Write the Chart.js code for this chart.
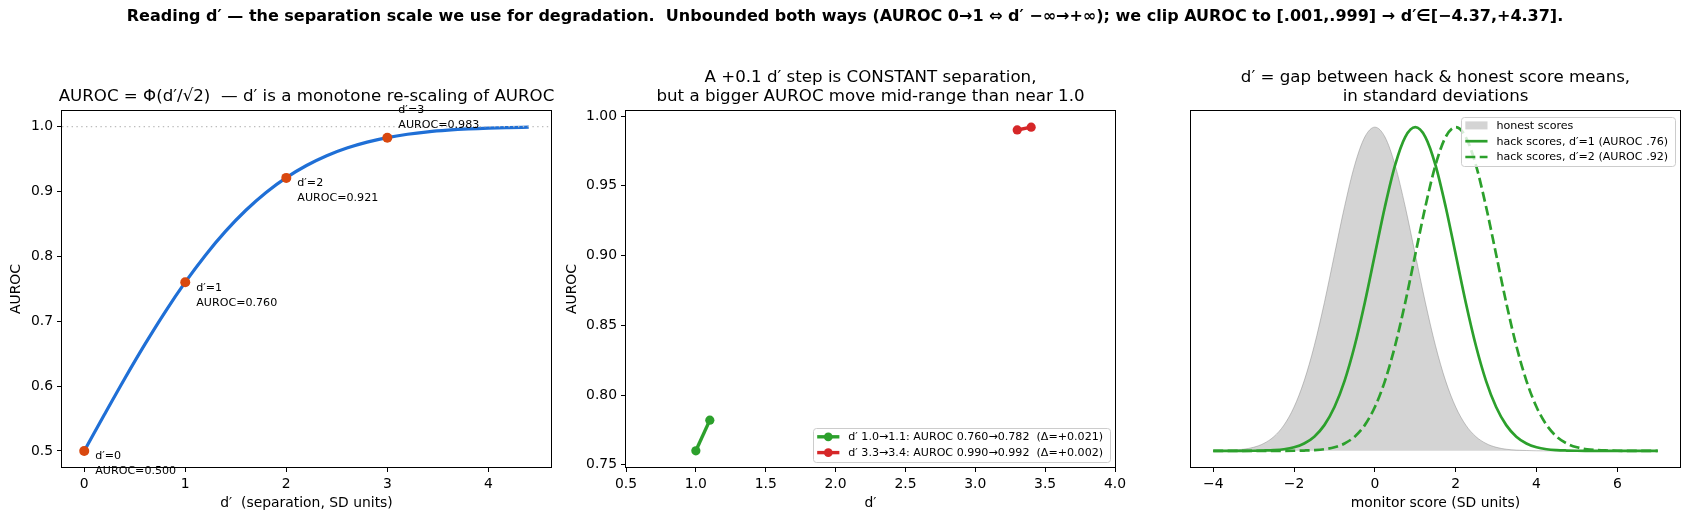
<!DOCTYPE html>
<html><head><meta charset="utf-8">
<script src="https://cdn.jsdelivr.net/npm/chart.js@4.4.1/dist/chart.umd.min.js"></script>
<style>
html,body{margin:0;padding:0;background:#fff;width:1689px;height:520px;overflow:hidden}
canvas.c{position:absolute;left:0;top:0;width:1689px;height:520px}
</style></head><body>
<canvas id="c1" class="c" width="1689" height="520"></canvas>
<canvas id="c2" class="c" width="1689" height="520"></canvas>
<canvas id="c3" class="c" width="1689" height="520"></canvas>
<script>
// ---------------- data ----------------
// Panel 1: AUROC = Phi(d'/sqrt2)
const curveD     = [0,0.2,0.4,0.6,0.8,1.0,1.2,1.4,1.6,1.8,2.0,2.2,2.4,2.6,2.8,3.0,3.2,3.4,3.6,3.8,4.0,4.2,4.4];
const curveAuroc = [0.5000,0.5562,0.6114,0.6643,0.7142,0.7602,0.8019,0.8389,0.8711,0.8985,0.9214,0.9401,0.9552,0.9670,0.9761,0.9831,0.9882,0.9919,0.9945,0.9964,0.9977,0.9985,0.9991];
const markD      = [0,1,2,3];
const markAuroc  = [0.500,0.760,0.921,0.983];
const p1XTicks = [0,1,2,3,4];
const p1XTickLabels = ['0','1','2','3','4'];
const p1YTicks = [0.5,0.6,0.7,0.8,0.9,1.0];
const p1YTickLabels = ['0.5','0.6','0.7','0.8','0.9','1.0'];

// Panel 2: +0.1 d' steps
const stepLowD = [1.0,1.1];
const stepLowAuroc = [0.760,0.782];
const stepHighD = [3.3,3.4];
const stepHighAuroc = [0.990,0.992];
const p2LegendLabels = ['d\u2032 1.0\u21921.1: AUROC 0.760\u21920.782  (\u0394=+0.021)',
                        'd\u2032 3.3\u21923.4: AUROC 0.990\u21920.992  (\u0394=+0.002)'];
const p2XTicks = [0.5,1.0,1.5,2.0,2.5,3.0,3.5,4.0];
const p2XTickLabels = ['0.5','1.0','1.5','2.0','2.5','3.0','3.5','4.0'];
const p2YTicks = [0.75,0.80,0.85,0.90,0.95,1.00];
const p2YTickLabels = ['0.75','0.80','0.85','0.90','0.95','1.00'];

// Panel 3: score distributions
const scores = [-4,-3.75,-3.5,-3.25,-3,-2.75,-2.5,-2.25,-2,-1.75,-1.5,-1.25,-1,-0.75,-0.5,-0.25,0,0.25,0.5,0.75,1,1.25,1.5,1.75,2,2.25,2.5,2.75,3,3.25,3.5,3.75,4,4.25,4.5,4.75,5,5.25,5.5,5.75,6,6.25,6.5,6.75,7];
const honestDensity = [0.0001,0.0004,0.0009,0.0020,0.0044,0.0091,0.0175,0.0317,0.0540,0.0863,0.1295,0.1826,0.2420,0.3011,0.3521,0.3867,0.3989,0.3867,0.3521,0.3011,0.2420,0.1826,0.1295,0.0863,0.0540,0.0317,0.0175,0.0091,0.0044,0.0020,0.0009,0.0004,0.0001,0,0,0,0,0,0,0,0,0,0,0,0];
const hack1Density  = [0,0,0,0,0.0001,0.0004,0.0009,0.0020,0.0044,0.0091,0.0175,0.0317,0.0540,0.0863,0.1295,0.1826,0.2420,0.3011,0.3521,0.3867,0.3989,0.3867,0.3521,0.3011,0.2420,0.1826,0.1295,0.0863,0.0540,0.0317,0.0175,0.0091,0.0044,0.0020,0.0009,0.0004,0.0001,0,0,0,0,0,0,0,0];
const hack2Density  = [0,0,0,0,0,0,0,0,0.0001,0.0004,0.0009,0.0020,0.0044,0.0091,0.0175,0.0317,0.0540,0.0863,0.1295,0.1826,0.2420,0.3011,0.3521,0.3867,0.3989,0.3867,0.3521,0.3011,0.2420,0.1826,0.1295,0.0863,0.0540,0.0317,0.0175,0.0091,0.0044,0.0020,0.0009,0.0004,0.0001,0,0,0,0];
const p3LegendLabels = ['honest scores','hack scores, d\u2032=1 (AUROC .76)','hack scores, d\u2032=2 (AUROC .92)'];
const p3XTicks = [-4,-2,0,2,4,6];
const p3XTickLabels = ['\u22124','\u22122','0','2','4','6'];

const SUPTITLE = 'Reading d\u2032 \u2014 the separation scale we use for degradation.  Unbounded both ways (AUROC 0\u21921 \u21d4 d\u2032 \u2212\u221e\u2192+\u221e); we clip AUROC to [.001,.999] \u2192 d\u2032\u2208[\u22124.37,+4.37].';

// ---------------- style ----------------
const FONT = "'DejaVu Sans', sans-serif";
const TICK = 13.9, LABEL = 13.9, TITLE = 16.67, LEG = 11.1, ANN = 11.1, SUP = 16;
const W = 1689, H = 520;
const BLUE = '#1f6fd6', ORANGE = '#d9480f', GREEN = '#2ca02c', RED = '#d62728';
const DASH = [10, 4.4];

const zip = (xs, ys) => xs.map((x, i) => ({x, y: ys[i]}));

function linScale(min, max, ticks, labels, show, fit, isX) {
  return {
    type: 'linear', min, max,
    afterBuildTicks: s => { s.ticks = ticks.map(v => ({value: v})); },
    afterFit: s => { if (isX) s.height = fit; else s.width = fit; },
    ticks: {display: show, font: {family: FONT, size: TICK}, color: '#000', padding: 4,
            maxRotation: 0, autoSkip: false, callback: (v, i) => labels[i]},
    grid: {display: show, drawOnChartArea: false, drawTicks: show, tickLength: 5,
           color: '#000', tickColor: '#000', lineWidth: 1},
    border: {display: false}
  };
}

function txt(ctx, s, x, y, size, align, bold, rot) {
  ctx.save();
  ctx.font = (bold ? 'bold ' : '') + size + 'px ' + FONT;
  ctx.fillStyle = '#000';
  ctx.textAlign = align || 'center';
  ctx.textBaseline = 'middle';
  ctx.translate(x, y);
  if (rot) ctx.rotate(rot);
  ctx.fillText(s, 0, 0);
  ctx.restore();
}

function drawLegend(ctx, corner, ca, items) {
  ctx.save();
  ctx.font = LEG + 'px ' + FONT;
  const row = 15.8, pad = 4.4, hl = 22.2, gap = 8.9, inset = 5.5;
  let tw = 0;
  items.forEach(it => { tw = Math.max(tw, ctx.measureText(it.label).width); });
  const bw = pad + hl + gap + tw + pad + 2;
  const bh = items.length * row + 2;
  const bx = ca.right - inset - bw;
  const by = corner === 'ur' ? ca.top + inset : ca.bottom - inset - bh;
  ctx.fillStyle = 'rgba(255,255,255,0.8)';
  ctx.strokeStyle = '#cccccc';
  ctx.lineWidth = 1;
  ctx.beginPath();
  ctx.roundRect(Math.round(bx) + 0.5, Math.round(by) + 0.5, Math.round(bw), Math.round(bh), 3);
  ctx.fill(); ctx.stroke();
  items.forEach((it, i) => {
    const cy = by + 1 + row * (i + 0.5);
    const hx = bx + pad;
    if (it.kind === 'patch') {
      ctx.fillStyle = 'rgba(128,128,128,0.34)';
      ctx.fillRect(hx, cy - 4, hl, 8);
    } else {
      ctx.strokeStyle = it.color;
      ctx.lineWidth = it.lw;
      ctx.setLineDash(it.dash || []);
      ctx.beginPath(); ctx.moveTo(hx, cy); ctx.lineTo(hx + hl, cy); ctx.stroke();
      ctx.setLineDash([]);
      if (it.marker) {
        ctx.fillStyle = it.color;
        ctx.beginPath(); ctx.arc(hx + hl / 2, cy, 4.4, 0, Math.PI * 2); ctx.fill();
      }
    }
    ctx.fillStyle = '#000';
    ctx.textAlign = 'left'; ctx.textBaseline = 'middle';
    ctx.fillText(it.label, hx + hl + gap, cy + 0.5);
  });
  ctx.restore();
}

function frame(ctx, ca) {
  ctx.save();
  ctx.strokeStyle = '#000'; ctx.lineWidth = 1;
  ctx.strokeRect(Math.round(ca.left) - 0.5, Math.round(ca.top) - 0.5,
                 Math.round(ca.right - ca.left) + 1, Math.round(ca.bottom - ca.top) + 1);
  ctx.restore();
}

function baseOpts(box, yW, xH, scales) {
  return {
    responsive: false, animation: false, devicePixelRatio: 1, events: [],
    layout: {padding: {left: box.l - yW, top: box.t, right: W - box.r, bottom: H - box.b - xH}},
    scales,
    plugins: {legend: {display: false}, tooltip: {enabled: false}, title: {display: false}}
  };
}

// ---------------- panel 1 ----------------
const box1 = {l: 62, r: 551, t: 111, b: 467};
const deco1 = {
  id: 'deco1',
  afterDatasetsDraw(chart) {
    const {ctx, chartArea: ca, scales: {x, y}} = chart;
    ctx.save();
    ctx.strokeStyle = '#bdbdbd'; ctx.lineWidth = 1.4; ctx.setLineDash([1.4, 3.4]);
    const yy = y.getPixelForValue(1.0);
    ctx.beginPath(); ctx.moveTo(ca.left, yy); ctx.lineTo(ca.right, yy); ctx.stroke();
    ctx.restore();
    frame(ctx, ca);
    markD.forEach((d, i) => {
      const px = x.getPixelForValue(d), py = y.getPixelForValue(markAuroc[i]);
      const above = i === markD.length - 1;
      const o1 = above ? -28 : 5.5, o2 = above ? -13 : 20.5;
      txt(ctx, 'd\u2032=' + d, px + 11, py + o1, ANN, 'left');
      txt(ctx, 'AUROC=' + markAuroc[i].toFixed(3), px + 11, py + o2, ANN, 'left');
    });
  },
  afterDraw(chart) {
    const {ctx, chartArea: ca} = chart;
    txt(ctx, SUPTITLE, 845, 17, SUP, 'center', true);
    txt(ctx, 'AUROC = \u03a6(d\u2032/\u221a2)  \u2014 d\u2032 is a monotone re-scaling of AUROC', (ca.left + ca.right) / 2, ca.top - 14, TITLE);
    txt(ctx, 'd\u2032  (separation, SD units)', (ca.left + ca.right) / 2, ca.bottom + 36, LABEL);
    txt(ctx, 'AUROC', ca.left - 46, (ca.top + ca.bottom) / 2, LABEL, 'center', false, -Math.PI / 2);
  }
};
new Chart(document.getElementById('c1'), {
  type: 'scatter',
  data: {datasets: [
    {data: zip(markD, markAuroc), showLine: false, pointRadius: 5, pointBackgroundColor: ORANGE, pointBorderWidth: 0},
    {data: zip(curveD, curveAuroc), showLine: true, borderColor: BLUE, borderWidth: 3.2, pointRadius: 0, cubicInterpolationMode: 'monotone'}
  ]},
  options: baseOpts(box1, 50, 50, {
    x: linScale(-0.22, 4.62, p1XTicks, p1XTickLabels, true, 50, true),
    y: linScale(0.4753, 1.0241, p1YTicks, p1YTickLabels, true, 50, false)
  }),
  plugins: [deco1]
});

// ---------------- panel 2 ----------------
const box2 = {l: 626, r: 1115, t: 111, b: 467};
const deco2 = {
  id: 'deco2',
  afterDatasetsDraw(chart) {
    const {ctx, chartArea: ca} = chart;
    frame(ctx, ca);
    drawLegend(ctx, 'lr', ca, [
      {label: p2LegendLabels[0], color: GREEN, lw: 3.4, marker: true},
      {label: p2LegendLabels[1], color: RED, lw: 3.4, marker: true}
    ]);
  },
  afterDraw(chart) {
    const {ctx, chartArea: ca} = chart;
    const cx = (ca.left + ca.right) / 2;
    txt(ctx, 'A +0.1 d\u2032 step is CONSTANT separation,', cx, ca.top - 33.5, TITLE);
    txt(ctx, 'but a bigger AUROC move mid-range than near 1.0', cx, ca.top - 14, TITLE);
    txt(ctx, 'd\u2032', cx, ca.bottom + 36, LABEL);
    txt(ctx, 'AUROC', ca.left - 54, (ca.top + ca.bottom) / 2, LABEL, 'center', false, -Math.PI / 2);
  }
};
new Chart(document.getElementById('c2'), {
  type: 'scatter',
  data: {datasets: [
    {data: zip(stepHighD, stepHighAuroc), showLine: true, borderColor: RED, borderWidth: 3.4, pointRadius: 4.6, pointBackgroundColor: RED, pointBorderWidth: 0, clip: false},
    {data: zip(stepLowD, stepLowAuroc), showLine: true, borderColor: GREEN, borderWidth: 3.4, pointRadius: 4.6, pointBackgroundColor: GREEN, pointBorderWidth: 0, clip: false}
  ]},
  options: baseOpts(box2, 60, 50, {
    x: linScale(0.5, 4.0, p2XTicks, p2XTickLabels, true, 50, true),
    y: linScale(0.7484, 1.0036, p2YTicks, p2YTickLabels, true, 60, false)
  }),
  plugins: [deco2]
});

// ---------------- panel 3 ----------------
const box3 = {l: 1191, r: 1680, t: 111, b: 467};
const deco3 = {
  id: 'deco3',
  afterDatasetsDraw(chart) {
    const {ctx, chartArea: ca} = chart;
    frame(ctx, ca);
    drawLegend(ctx, 'ur', ca, [
      {label: p3LegendLabels[0], kind: 'patch'},
      {label: p3LegendLabels[1], color: GREEN, lw: 2.7},
      {label: p3LegendLabels[2], color: GREEN, lw: 2.7, dash: DASH}
    ]);
  },
  afterDraw(chart) {
    const {ctx, chartArea: ca} = chart;
    const cx = (ca.left + ca.right) / 2;
    txt(ctx, 'd\u2032 = gap between hack & honest score means,', cx, ca.top - 33.5, TITLE);
    txt(ctx, 'in standard deviations', cx, ca.top - 14, TITLE);
    txt(ctx, 'monitor score (SD units)', cx, ca.bottom + 36, LABEL);
  }
};
new Chart(document.getElementById('c3'), {
  type: 'scatter',
  data: {datasets: [
    {data: zip(scores, hack1Density), showLine: true, borderColor: GREEN, borderWidth: 2.7, pointRadius: 0, cubicInterpolationMode: 'monotone'},
    {data: zip(scores, hack2Density), showLine: true, borderColor: GREEN, borderWidth: 2.7, borderDash: DASH, pointRadius: 0, cubicInterpolationMode: 'monotone'},
    {data: zip(scores, honestDensity), showLine: true, fill: 'origin', backgroundColor: 'rgba(128,128,128,0.34)', borderColor: 'rgba(128,128,128,0.45)', borderWidth: 1, pointRadius: 0, cubicInterpolationMode: 'monotone'}
  ]},
  options: baseOpts(box3, 0, 50, {
    x: linScale(-4.55, 7.55, p3XTicks, p3XTickLabels, true, 50, true),
    y: Object.assign(linScale(-0.0199, 0.4188, [], [], false, 0, false), {display: true})
  }),
  plugins: [deco3]
});
</script></body></html>
